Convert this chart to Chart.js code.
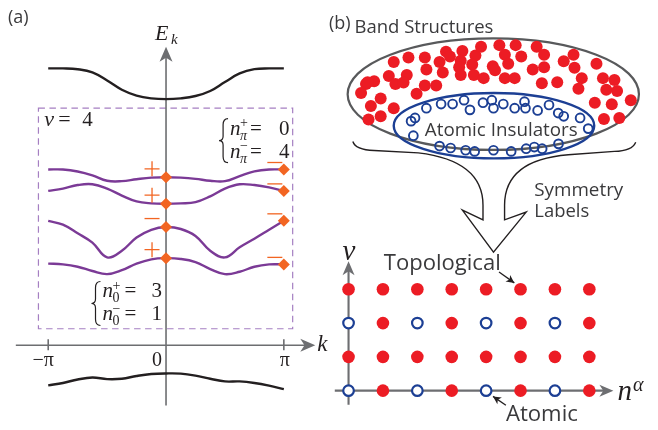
<!DOCTYPE html>
<html>
<head>
<meta charset="utf-8">
<script src="https://cdn.jsdelivr.net/npm/chart.js@4.4.1/dist/chart.umd.min.js"></script>
<style>
  html, body { margin: 0; padding: 0; background: #fff; }
  #wrap { position: relative; width: 658px; height: 430px; }
  #wrap canvas { position: absolute; left: 0; top: 0; }
</style>
</head>
<body>
<div id="wrap">
  <canvas id="bands" width="658" height="430"></canvas>
  <canvas id="cloud" width="658" height="430"></canvas>
  <canvas id="lattice" width="658" height="430"></canvas>
</div>
<script>
/* ---- panel (a): band structure, k in units of pi ---- */
const kPoints   = [-1, -0.875, -0.75, -0.625, -0.5, -0.375, -0.25, -0.125, 0, 0.125, 0.25, 0.375, 0.5, 0.625, 0.75, 0.875, 1];
const upperBand = [7.12, 7.12, 7.10, 7.02, 6.81, 6.57, 6.42, 6.35, 6.33, 6.35, 6.41, 6.54, 6.77, 6.99, 7.10, 7.12, 7.12];
const band1     = [4.52, 4.52, 4.47, 4.37, 4.23, 4.22, 4.27, 4.31, 4.32, 4.31, 4.28, 4.23, 4.22, 4.35, 4.47, 4.52, 4.52];
const band2     = [3.97, 4.03, 4.12, 4.14, 4.03, 3.85, 3.70, 3.65, 3.64, 3.65, 3.68, 3.83, 4.03, 4.14, 4.12, 4.06, 3.97];
const band3     = [3.20, 3.10, 2.88, 2.64, 2.26, 2.43, 2.77, 2.97, 3.04, 2.99, 2.81, 2.43, 2.26, 2.52, 2.74, 2.97, 3.20];
const band4     = [2.10, 2.08, 2.02, 1.91, 1.83, 1.93, 2.10, 2.21, 2.24, 2.22, 2.14, 1.96, 1.83, 1.89, 2.02, 2.08, 2.08];
const lowerBand = [-1.03, -0.97, -0.88, -0.83, -0.87, -0.86, -0.79, -0.74, -0.725, -0.73, -0.78, -0.86, -0.93, -0.93, -0.97, -1.04, -1.13];
const parityAtZero = ['+', '+', '−', '+'];
const parityAtPi   = ['−', '−', '−', '−'];
const kTickValues  = [-1, 0, 1];
const kTickLabels  = ['−π', '0', 'π'];
const boxK = [-1.083, 1.075];
const boxE = [0.425, 6.1];

/* ---- panel (b): dots inside the ellipse (panel pixels) ---- */
const bandStructureDots = [
  [65, 57.3], [80, 52.7], [96.7, 52.7], [111.7, 57.3], [118.3, 46.7], [122.3, 51.7], [135, 46], [133.3, 56],
  [131.7, 62.7], [148.3, 50.7], [154, 41.7], [145, 60], [172.7, 40], [189.3, 40], [178.3, 50], [181.7, 59.3],
  [195, 51.7], [210.7, 41.7], [218.3, 50], [206.7, 65], [218.3, 62.7], [238.3, 56.7], [248.3, 50], [249.3, 63.3],
  [271.7, 59.3], [166, 61.7], [168.3, 66], [146.7, 70.7], [156.7, 74], [133.3, 70.7], [115, 68.3], [98.3, 65],
  [78.3, 70.7], [60, 71.7], [66.7, 80], [75, 78.5], [96.7, 81.7], [108.3, 81.7], [88.3, 90], [45, 77.3],
  [36.7, 80], [31.7, 89.3], [51.7, 95], [41.7, 102.7], [65, 105], [51.7, 113.3], [39.3, 116.7], [178.3, 74],
  [188.3, 74], [216, 79.3], [231.7, 78.3], [256.7, 74], [253.3, 85], [278.3, 74], [290, 76], [281.7, 86],
  [292.7, 87.3], [306.7, 96.7], [270, 99.3], [287.3, 101], [295, 115], [279.3, 116], [38.3, 78.3]
];
const atomicDots = [
  [98.3, 105], [113.3, 100.7], [125, 100.7], [136.7, 96.7], [142.7, 106.7], [156, 99.3], [165, 96.7], [166.7, 105],
  [176.7, 100.7], [188.3, 105], [198.3, 98.3], [199.3, 105], [211.7, 107.3], [223.3, 101.7], [232.7, 110], [238.3, 113.3],
  [255, 115], [263.3, 126], [86.7, 115], [82.7, 118.3], [85, 133.3], [111.7, 144], [123, 146], [138.3, 148.3],
  [147.5, 149.5], [166.7, 148.3], [184.7, 149.5], [200, 146.7], [208.3, 145], [216.3, 146.7], [233, 141.7]
];

/* ---- panel (b): lattice of symmetry labels ---- */
const latticeN  = [0, 1, 2, 3, 4, 5, 6, 7];
const latticeNu = [0, 1, 2, 3];
const latticeKinds = [          // one row per nu, A = atomic, T = topological
  ['A', 'T', 'A', 'T', 'A', 'T', 'A', 'T'],
  ['T', 'T', 'T', 'T', 'T', 'T', 'T', 'T'],
  ['A', 'T', 'A', 'T', 'A', 'T', 'A', 'T'],
  ['T', 'T', 'T', 'T', 'T', 'T', 'T', 'T']
];

const BLACK   = '#231f20';
const PURPLE  = '#7b3a96';
const ORANGE  = '#f26522';
const AXIS    = '#6d6e71';
const BOXLINE = '#a57fc2';
const RED     = '#ec1c24';
const BLUE    = '#1c3f94';
const TEXT    = '#3a3a3c';
const SERIF   = '"Liberation Serif", "DejaVu Serif", serif';
const SANS    = '"Open Sans", "Noto Sans", sans-serif';

function stealth(ctx, fromX, fromY, tipX, tipY, len, half, color) {
  const a = Math.atan2(tipY - fromY, tipX - fromX);
  const c = Math.cos(a), s = Math.sin(a);
  const pt = (u, v) => [tipX - u * c - v * s, tipY - u * s + v * c];
  ctx.beginPath();
  ctx.moveTo(tipX, tipY);
  ctx.lineTo(...pt(len, half));
  ctx.lineTo(...pt(len * 0.72, 0));
  ctx.lineTo(...pt(len, -half));
  ctx.closePath();
  ctx.fillStyle = color;
  ctx.fill();
}

function fitText(ctx, text, x, y, width, family) {
  ctx.font = `20px ${family}`;
  const size = 20 * width / ctx.measureText(text).width;
  ctx.font = `${size.toFixed(2)}px ${family}`;
  ctx.textAlign = 'left';
  ctx.fillText(text, x, y);
}

function txt(ctx, s, x, y, font, align) {
  ctx.font = font;
  ctx.textAlign = align || 'left';
  ctx.fillText(s, x, y);
}

function brace(ctx, x, top, bot, w) {
  const mid = (top + bot) / 2, h = bot - top;
  ctx.beginPath();
  ctx.moveTo(x + w, top);
  ctx.quadraticCurveTo(x + w * 0.45, top, x + w * 0.45, top + h * 0.14);
  ctx.lineTo(x + w * 0.45, mid - h * 0.1);
  ctx.quadraticCurveTo(x + w * 0.45, mid, x, mid);
  ctx.quadraticCurveTo(x + w * 0.45, mid, x + w * 0.45, mid + h * 0.1);
  ctx.lineTo(x + w * 0.45, bot - h * 0.14);
  ctx.quadraticCurveTo(x + w * 0.45, bot, x + w, bot);
  ctx.stroke();
}

const baseOptions = (xr, yr, reverseY) => ({
  responsive: false,
  animation: false,
  devicePixelRatio: 1,
  events: [],
  layout: { padding: 0 },
  plugins: { legend: { display: false }, tooltip: { enabled: false } },
  scales: {
    x: { type: 'linear', display: false, min: xr[0], max: xr[1] },
    y: { type: 'linear', display: false, min: yr[0], max: yr[1], reverse: !!reverseY }
  }
});

// ---- PANEL (a) ----
const purpleBands = [band1, band2, band3, band4];
const curve = (vals, color) => ({
  data: kPoints.map((k, i) => ({ x: k, y: vals[i] })),
  showLine: true, borderColor: color, borderWidth: 2.4,
  pointRadius: 0, tension: 0.4, fill: false, order: 1
});
const iZero = kPoints.indexOf(0), iPi = kPoints.indexOf(1);
const diamonds = [];
purpleBands.forEach(b => { diamonds.push({ x: 0, y: b[iZero] }); diamonds.push({ x: 1, y: b[iPi] }); });

const bandDecor = {
  id: 'bandDecor',
  beforeDatasetsDraw(chart) {
    const { ctx, scales: { x, y } } = chart;
    const X = v => x.getPixelForValue(v), Y = v => y.getPixelForValue(v);
    ctx.save();
    // dashed window
    ctx.strokeStyle = BOXLINE; ctx.lineWidth = 1.2; ctx.setLineDash([6.5, 4.5]);
    ctx.strokeRect(X(boxK[0]), Y(boxE[1]), X(boxK[1]) - X(boxK[0]), Y(boxE[0]) - Y(boxE[1]));
    ctx.setLineDash([]);
    // axes
    ctx.strokeStyle = AXIS; ctx.lineWidth = 1.6;
    ctx.beginPath();
    ctx.moveTo(X(-1.275), Y(0)); ctx.lineTo(X(1.2), Y(0));
    ctx.moveTo(X(0), Y(-1.55)); ctx.lineTo(X(0), Y(7.5));
    kTickValues.filter(v => v !== 0).forEach(v => { ctx.moveTo(X(v), Y(0) - 6); ctx.lineTo(X(v), Y(0) + 5); });
    ctx.stroke();
    stealth(ctx, X(0), Y(0), X(1.267), Y(0), 15, 6.5, AXIS);
    stealth(ctx, X(0), Y(0), X(0), Y(7.675), 15, 6.5, AXIS);
    ctx.restore();
  },
  afterDatasetsDraw(chart) {
    const { ctx, scales: { x, y } } = chart;
    const X = v => x.getPixelForValue(v), Y = v => y.getPixelForValue(v);
    ctx.save();
    // parity signs
    ctx.strokeStyle = ORANGE; ctx.lineWidth = 1.3;
    const sign = (s, cx, cy) => {
      ctx.beginPath();
      ctx.moveTo(cx - 7.5, cy); ctx.lineTo(cx + 7.5, cy);
      if (s === '+') { ctx.moveTo(cx, cy - 7.5); ctx.lineTo(cx, cy + 7.5); }
      ctx.stroke();
    };
    purpleBands.forEach((b, i) => {
      sign(parityAtZero[i], X(0) - 14, Y(b[iZero]) - 8.5);
      sign(parityAtPi[i], X(1) - 9, Y(b[iPi]) - 7);
    });
    ctx.fillStyle = BLACK; ctx.textBaseline = 'alphabetic';
    // tick labels & axis labels
    const tickDx = [-5, -9, 1];
    kTickValues.forEach((v, i) => txt(ctx, kTickLabels[i], X(v) + tickDx[i], Y(-0.525), `20px ${SERIF}`, 'center'));
    txt(ctx, 'k', X(1.283), Y(-0.15), `italic 23px ${SERIF}`);
    txt(ctx, 'E', X(0) - 11, Y(7.85), `italic 22px ${SERIF}`);
    txt(ctx, 'k', X(0) + 5, Y(7.76), `italic 15px ${SERIF}`);
    // nu = 4
    const nx = X(-1.033), ny = Y(5.65);
    txt(ctx, 'ν', nx, ny, `italic 22px ${SERIF}`);
    txt(ctx, '=', nx + 14, ny, `22px ${SERIF}`);
    txt(ctx, '4', nx + 38, ny, `21px ${SERIF}`);
    // counting blocks
    ctx.strokeStyle = BLACK; ctx.lineWidth = 1.2;
    const block = (bx, topY, rows, sub, subItalic, eqDx, numDx) => {
      brace(ctx, bx, topY, topY + 44, 9);
      rows.forEach((r, j) => {
        const by = topY + 16 + j * 23;
        txt(ctx, 'n', bx + 11, by, `italic 21px ${SERIF}`);
        txt(ctx, r[0], bx + 21, by - 7.5, `14px ${SERIF}`);
        txt(ctx, sub, bx + 21, by + 5, `${subItalic ? 'italic ' : ''}14px ${SERIF}`);
        txt(ctx, '=', bx + eqDx, by, `21px ${SERIF}`);
        txt(ctx, r[1], bx + numDx, by, `21px ${SERIF}`);
      });
    };
    block(X(0.45), Y(5.83), [['+', '0'], ['−', '4']], 'π', true, 31, 60);
    block(X(-0.633), Y(1.64), [['+', '3'], ['−', '1']], '0', false, 33, 60);
    // panel tag
    ctx.fillStyle = TEXT;
    txt(ctx, '(a)', 8, 23, `18px ${SANS}`);
    ctx.restore();
  }
};

new Chart(document.getElementById('bands'), {
  type: 'scatter',
  data: {
    datasets: [
      { data: diamonds, pointStyle: 'rectRot', pointRadius: 6, backgroundColor: ORANGE, borderWidth: 0, order: 0 },
      curve(upperBand, BLACK),
      ...purpleBands.map(b => curve(b, PURPLE)),
      curve(lowerBand, BLACK)
    ]
  },
  options: baseOptions([-163 / 120, 495 / 120], [-81 / 40, 349 / 40]),
  plugins: [bandDecor]
});

// ---- PANEL (b), top: the space of band structures ----
const cloudDecor = {
  id: 'cloudDecor',
  beforeDatasetsDraw(chart) {
    const { ctx, scales: { x, y } } = chart;
    const X = v => x.getPixelForValue(v), Y = v => y.getPixelForValue(v);
    ctx.save();
    ctx.lineWidth = 2.2; ctx.strokeStyle = '#58595b';
    ctx.beginPath(); ctx.ellipse(X(166.5), Y(90.5), X(148.5) - X(0), Y(57.5) - Y(0), 0, 0, Math.PI * 2); ctx.stroke();
    ctx.lineWidth = 2.4; ctx.strokeStyle = BLUE;
    ctx.beginPath(); ctx.ellipse(X(167.2), Y(123), X(102.2) - X(0), Y(33.7) - Y(0), 0, 0, Math.PI * 2); ctx.stroke();
    ctx.restore();
  },
  afterDatasetsDraw(chart) {
    const { ctx, scales: { x, y } } = chart;
    const X = v => x.getPixelForValue(v), Y = v => y.getPixelForValue(v);
    ctx.save();
    // funnel into the open arrow
    ctx.strokeStyle = BLACK; ctx.lineWidth = 1.4; ctx.lineJoin = 'miter';
    ctx.beginPath();
    ctx.moveTo(X(23.3), Y(139.3));
    ctx.quadraticCurveTo(X(26), Y(148), X(45), Y(148.5));
    ctx.lineTo(X(90), Y(151));
    ctx.bezierCurveTo(X(140), Y(157), X(156), Y(178), X(156), Y(205));
    ctx.lineTo(X(156), Y(220));
    ctx.lineTo(X(135), Y(210));
    ctx.lineTo(X(166.7), Y(253.3));
    ctx.lineTo(X(200), Y(212));
    ctx.lineTo(X(178), Y(220));
    ctx.lineTo(X(178), Y(205));
    ctx.bezierCurveTo(X(178), Y(178), X(194), Y(157), X(243), Y(153));
    ctx.lineTo(X(290), Y(149.5));
    ctx.quadraticCurveTo(X(308), Y(149), X(311.7), Y(140));
    ctx.stroke();
    ctx.fillStyle = TEXT; ctx.textBaseline = 'alphabetic';
    txt(ctx, '(b)', X(-1), Y(23), `18px ${SANS}`);
    fitText(ctx, 'Band Structures', X(25), Y(28), 139, SANS);
    fitText(ctx, 'Atomic Insulators', X(96.7), Y(133.3), 153, SANS);
    fitText(ctx, 'Symmetry', X(208.3), Y(195), 89, SANS);
    fitText(ctx, 'Labels', X(208.3), Y(216.7), 55, SANS);
    ctx.restore();
  }
};

new Chart(document.getElementById('cloud'), {
  type: 'scatter',
  data: {
    datasets: [
      { data: atomicDots.map(p => ({ x: p[0], y: p[1] })), pointRadius: 4.4, borderWidth: 1.9,
        borderColor: BLUE, backgroundColor: 'rgba(255,255,255,0)' },
      { data: bandStructureDots.map(p => ({ x: p[0], y: p[1] })), pointRadius: 6, borderWidth: 0,
        backgroundColor: RED }
    ]
  },
  options: baseOptions([-330, 328], [0, 430], true),
  plugins: [cloudDecor]
});

// ---- PANEL (b), bottom: lattice of symmetry labels ----
const atomicPts = [], topoPts = [];
latticeNu.forEach((nu, r) => latticeN.forEach((n, c) => {
  (latticeKinds[r][c] === 'A' ? atomicPts : topoPts).push({ x: n, y: nu });
}));

const latticeDecor = {
  id: 'latticeDecor',
  beforeDatasetsDraw(chart) {
    const { ctx, scales: { x, y } } = chart;
    const X = v => x.getPixelForValue(v), Y = v => y.getPixelForValue(v);
    ctx.save();
    ctx.strokeStyle = AXIS; ctx.lineWidth = 2.1;
    ctx.beginPath();
    ctx.moveTo(X(-0.4), Y(0)); ctx.lineTo(X(7.5), Y(0));
    ctx.moveTo(X(0), Y(-0.42)); ctx.lineTo(X(0), Y(3.65));
    ctx.stroke();
    stealth(ctx, X(0), Y(0), X(7.7), Y(0), 14, 6, AXIS);
    stealth(ctx, X(0), Y(0), X(0), Y(3.83), 14, 6, AXIS);
    ctx.restore();
  },
  afterDatasetsDraw(chart) {
    const { ctx, scales: { x, y } } = chart;
    const X = v => x.getPixelForValue(v), Y = v => y.getPixelForValue(v);
    ctx.save();
    ctx.fillStyle = BLACK; ctx.textBaseline = 'alphabetic';
    txt(ctx, 'ν', X(0) + 0.5, Y(3.857), `italic 29px ${SERIF}`, 'center');
    txt(ctx, 'n', X(7.82), Y(-0.29), `italic 29px ${SERIF}`);
    txt(ctx, 'α', X(8.27), Y(0.0), `italic 20px ${SERIF}`);
    // pointer arrows
    ctx.strokeStyle = BLACK; ctx.lineWidth = 1.3;
    const pointer = (x1, y1, x2, y2) => {
      ctx.beginPath(); ctx.moveTo(X(x1), Y(y1)); ctx.lineTo(X(x2), Y(y2)); ctx.stroke();
      stealth(ctx, X(x1), Y(y1), X(x2), Y(y2), 8, 4, BLACK);
    };
    pointer(4.375, 3.514, 4.82, 3.19);
    pointer(4.574, -0.43, 4.2, -0.17);
    ctx.fillStyle = TEXT;
    fitText(ctx, 'Topological', X(1.023), Y(3.571), 117, SANS);
    fitText(ctx, 'Atomic', X(4.574), Y(-0.886), 72, SANS);
    ctx.restore();
  }
};

new Chart(document.getElementById('lattice'), {
  type: 'scatter',
  data: {
    datasets: [
      { data: atomicPts, pointRadius: 5.3, borderWidth: 2.2, borderColor: BLUE, backgroundColor: '#fff' },
      { data: topoPts, pointRadius: 6.3, borderWidth: 0, backgroundColor: RED }
    ]
  },
  options: baseOptions([-349 / 35.2, 309 / 35.2], [-33 / 35, 397 / 35]),
  plugins: [latticeDecor]
});
</script>
</body>
</html>
